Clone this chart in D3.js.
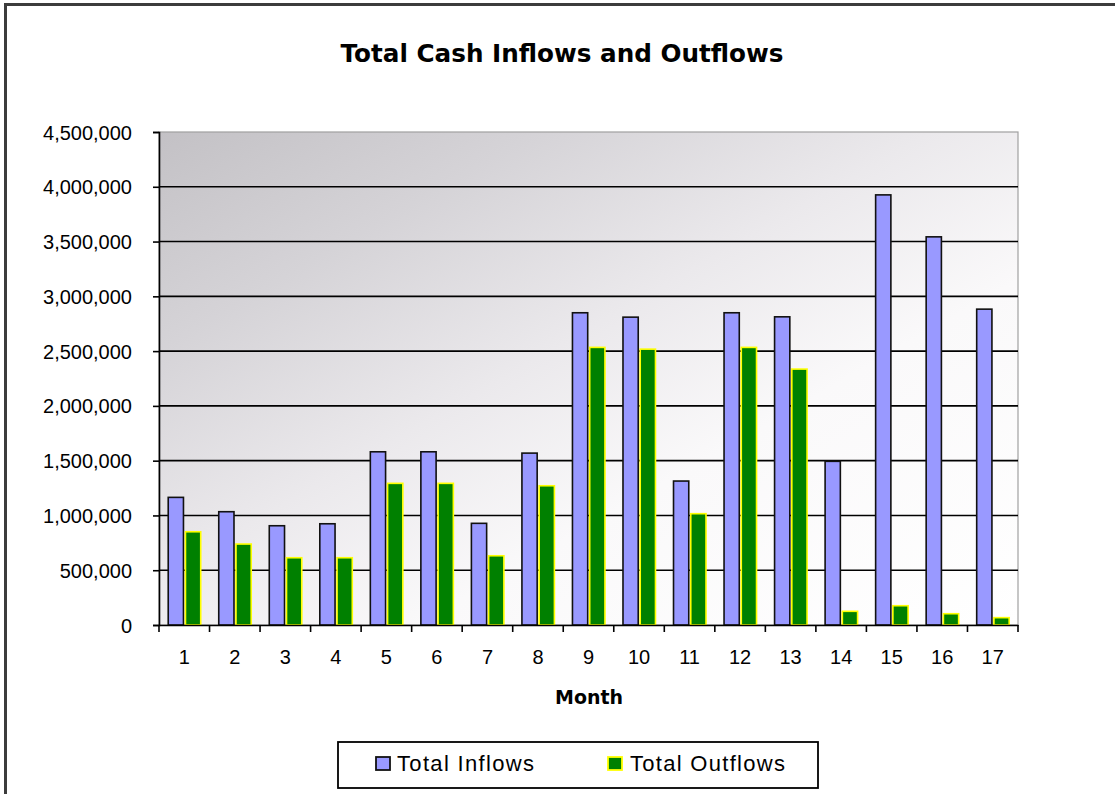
<!DOCTYPE html>
<html><head><meta charset="utf-8">
<script src="https://cdn.jsdelivr.net/npm/d3@7"></script>
<style>
html,body{margin:0;padding:0;background:#fff;}
svg{display:block;font-family:"Liberation Sans",Arial,sans-serif;}
</style></head>
<body>
<svg id="chart" width="1115" height="794"></svg>
<script>
const months = ["1","2","3","4","5","6","7","8","9","10","11","12","13","14","15","16","17"];
const inflows = [1165000,1034000,906000,924000,1581000,1581000,928000,1569000,2850000,2810000,1314000,2850000,2813000,1494000,3926000,3543000,2883000];
const outflows = [851000,739000,614000,614000,1293000,1293000,632000,1271000,2534000,2518000,1016000,2534000,2336000,125000,176000,103000,67000];
const seriesNames = ["Total Inflows","Total Outflows"];
const yTicks = [0,500000,1000000,1500000,2000000,2500000,3000000,3500000,4000000,4500000];

const svg = d3.select("#chart");
const L = 159, R = 1018, T = 132, B = 625;

// outer chart border (left & top visible)
svg.append("path").attr("d","M5.5,800 V4.5 H1120").attr("fill","none").attr("stroke","#3c3c3c").attr("stroke-width",3);

// gradient
const defs = svg.append("defs");
const g = defs.append("linearGradient").attr("id","bg").attr("x1",0).attr("y1",0).attr("x2",1).attr("y2",1);
[[0,"#c3c1c5"],[0.22,"#d5d3d7"],[0.45,"#ebe9ec"],[0.65,"#faf9fa"],[1,"#ffffff"]].forEach(s=>g.append("stop").attr("offset",s[0]).attr("stop-color",s[1]));

const x = d3.scaleBand().domain(months).range([L,R]).paddingInner(0).paddingOuter(0);
const xs = d3.scaleBand().domain(seriesNames).range([0,x.bandwidth()]).paddingInner(0).paddingOuter(0.5);
const y = d3.scaleLinear().domain([0,4500000]).range([B,T]);

svg.append("rect").attr("x",L).attr("y",T).attr("width",R-L).attr("height",B-T).attr("fill","url(#bg)").attr("stroke","#a0a0a0").attr("stroke-width",1.2);

// gridlines
svg.append("g").selectAll("line").data(yTicks.filter(d=>d>0 && d<4500000)).join("line")
  .attr("x1",L).attr("x2",R).attr("y1",d=>y(d)).attr("y2",d=>y(d))
  .attr("stroke","#000").attr("stroke-width",1.6);

// bars
const data = months.map((m,i)=>({m, v:[inflows[i],outflows[i]]}));
const grp = svg.append("g").selectAll("g").data(data).join("g").attr("transform",d=>`translate(${x(d.m)},0)`);
grp.append("rect").attr("x",xs("Total Inflows")+0.8).attr("width",xs.bandwidth()-1.6)
  .attr("y",d=>y(d.v[0])).attr("height",d=>B-y(d.v[0]))
  .attr("fill","#9999ff").attr("stroke","#111").attr("stroke-width",1.6);
grp.append("rect").attr("x",xs("Total Outflows")+1.2).attr("width",xs.bandwidth()-1.6)
  .attr("y",d=>y(d.v[1])).attr("height",d=>B-y(d.v[1]))
  .attr("fill","#008000").attr("stroke","#ffff00").attr("stroke-width",1.6);

// y axis
const yAxis = d3.axisLeft(y).tickValues(yTicks).tickSize(6).tickPadding(20).tickFormat(d3.format(","));
const ya = svg.append("g").attr("transform",`translate(${L},0)`).call(yAxis);
ya.select(".domain").attr("stroke","#000").attr("stroke-width",1.6);
ya.selectAll(".tick line").attr("stroke","#000").attr("stroke-width",1.6);
ya.selectAll("text").attr("font-size",20).attr("fill","#000").attr("dy","0.35em").attr("x",-27);

// x axis
const xAxis = d3.axisBottom(x).tickSize(0).tickPadding(25);
const xa = svg.append("g").attr("transform",`translate(0,${B})`).call(xAxis);
xa.select(".domain").attr("stroke","#000").attr("stroke-width",1.6);
xa.selectAll("text").attr("font-size",20).attr("fill","#000");
// tick marks at band boundaries
const bounds = months.map(m=>x(m)).concat([R]);
svg.append("g").selectAll("line").data(bounds).join("line")
  .attr("x1",d=>d).attr("x2",d=>d).attr("y1",B).attr("y2",B+7)
  .attr("stroke","#000").attr("stroke-width",1.6);

// title
svg.append("text").attr("x",562).attr("y",62).attr("text-anchor","middle")
  .attr("font-family","'DejaVu Sans',Verdana,sans-serif")
  .attr("font-size",24).attr("font-weight","bold").attr("textLength",443).attr("lengthAdjust","spacingAndGlyphs")
  .text("Total Cash Inflows and Outflows");
svg.append("text").attr("x",589).attr("y",704).attr("text-anchor","middle")
  .attr("font-family","'DejaVu Sans',Verdana,sans-serif")
  .attr("font-size",20).attr("font-weight","bold").attr("textLength",68).attr("lengthAdjust","spacingAndGlyphs")
  .text("Month");

// legend
const lg = svg.append("g");
lg.append("rect").attr("x",338).attr("y",742).attr("width",480).attr("height",46).attr("fill","#fff").attr("stroke","#000").attr("stroke-width",1.8);
const legItems = [
  {name:seriesNames[0], fill:"#9999ff", stroke:"#111", sx:376, tx:397, tl:137},
  {name:seriesNames[1], fill:"#008000", stroke:"#ffff00", sx:608, tx:630, tl:155}
];
legItems.forEach(it=>{
  lg.append("rect").attr("x",it.sx).attr("y",757).attr("width",14).attr("height",13).attr("fill",it.fill).attr("stroke",it.stroke).attr("stroke-width",1.8);
  lg.append("text").attr("x",it.tx).attr("y",771).attr("font-size",22).attr("textLength",it.tl).attr("lengthAdjust","spacing").text(it.name);
});
</script>
</body></html>
